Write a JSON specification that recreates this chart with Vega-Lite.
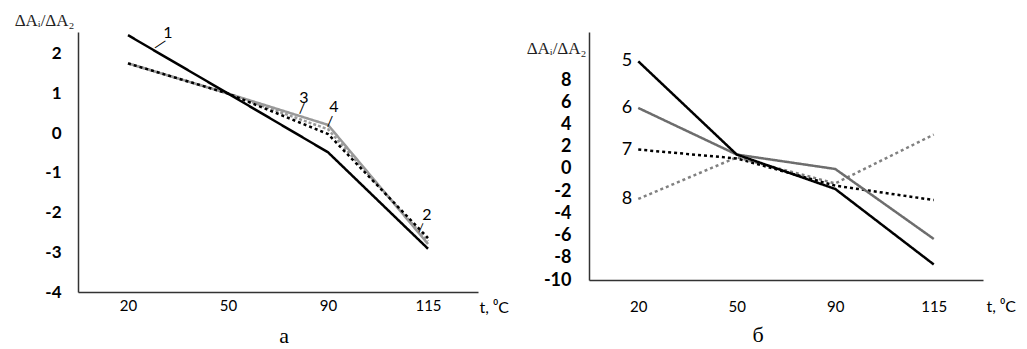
{
  "$schema": "https://vega.github.io/schema/vega-lite/v6.json",
  "background": "white",
  "padding": {"left": 14, "top": 11, "right": 2, "bottom": 0},
  "bounds": "flush",
  "spacing": 111,
  "config": {"view": {"stroke": null}, "axis": {"grid": false, "ticks": false}},
  "resolve": {"scale": {"color": "independent", "strokeDash": "independent"}},
  "datasets": {
    "a": [
      {"s": "3", "t": "20", "v": 1.76}, {"s": "3", "t": "50", "v": 1.0}, {"s": "3", "t": "90", "v": 0.21}, {"s": "3", "t": "115", "v": -2.79},
      {"s": "2", "t": "20", "v": 1.76}, {"s": "2", "t": "50", "v": 1.0}, {"s": "2", "t": "90", "v": 0.1}, {"s": "2", "t": "115", "v": -2.72},
      {"s": "4", "t": "20", "v": 1.76}, {"s": "4", "t": "50", "v": 1.0}, {"s": "4", "t": "90", "v": -0.02}, {"s": "4", "t": "115", "v": -2.64},
      {"s": "1", "t": "20", "v": 2.47}, {"s": "1", "t": "50", "v": 1.0}, {"s": "1", "t": "90", "v": -0.48}, {"s": "1", "t": "115", "v": -2.91}
    ],
    "b": [
      {"s": "8", "t": "20", "v": -2.7}, {"s": "8", "t": "50", "v": 1.05}, {"s": "8", "t": "90", "v": -1.3}, {"s": "8", "t": "115", "v": 3.1},
      {"s": "7", "t": "20", "v": 1.75}, {"s": "7", "t": "50", "v": 0.95}, {"s": "7", "t": "90", "v": -1.5}, {"s": "7", "t": "115", "v": -2.8},
      {"s": "6", "t": "20", "v": 5.5}, {"s": "6", "t": "50", "v": 1.3}, {"s": "6", "t": "90", "v": 0.0}, {"s": "6", "t": "115", "v": -6.3},
      {"s": "5", "t": "20", "v": 9.7}, {"s": "5", "t": "50", "v": 1.3}, {"s": "5", "t": "90", "v": -1.8}, {"s": "5", "t": "115", "v": -8.6}
    ]
  },
  "hconcat": [
    {
      "width": 400,
      "height": 260,
      "data": {"name": "a"},
      "title": {"text": "а", "orient": "bottom", "font": "Liberation Serif", "fontSize": 22, "fontWeight": "normal", "color": "#000", "dx": 6, "offset": 11},
      "encoding": {
        "x": {
          "field": "t", "type": "ordinal", "sort": ["20", "50", "90", "115"],
          "axis": {
            "title": "t, ⁰C", "titleX": 401, "titleY": 15, "titleAlign": "left", "titleBaseline": "middle",
            "titleFont": "Lato", "titleFontSize": 16, "titleFontWeight": "normal", "titleColor": "#000",
            "labelAngle": 0, "labelFont": "Lato", "labelFontSize": 15, "labelColor": "#000", "labelPadding": 6,
            "domainColor": "#333", "domainWidth": 1.5
          }
        },
        "y": {
          "field": "v", "type": "quantitative",
          "scale": {"domain": [-4, 2.55], "nice": false, "zero": false},
          "axis": {
            "title": "ΔAᵢ/ΔA₂", "titleAngle": 0, "titleAlign": "right", "titleBaseline": "middle", "titleX": -4, "titleY": -12,
            "titleFont": "Liberation Serif", "titleFontSize": 17, "titleFontWeight": "normal", "titleColor": "#222",
            "values": [-4, -3, -2, -1, 0, 1, 2],
            "labelExpr": "replace(datum.label, '−', '-')",
            "labelFont": "Lato", "labelFontWeight": "bold", "labelFontSize": 17, "labelColor": "#000", "labelPadding": 17,
            "domainColor": "#333", "domainWidth": 1.5
          }
        }
      },
      "layer": [
        {
          "mark": {"type": "line", "strokeWidth": 2.5},
          "encoding": {
            "color": {"field": "s", "type": "nominal", "scale": {"domain": ["1", "2", "3", "4"], "range": ["#000000", "#999999", "#999999", "#000000"]}, "legend": null},
            "strokeDash": {"field": "s", "type": "nominal", "scale": {"domain": ["1", "2", "3", "4"], "range": [[1, 0], [3, 2], [1, 0], [3, 3]]}, "legend": null}
          }
        },
        {
          "transform": [{"filter": "datum.s == '1' && datum.t == '20'"}],
          "mark": {"type": "text", "font": "Lato", "fontSize": 16, "align": "center", "baseline": "middle", "dx": 40, "dy": -2, "color": "#000"},
          "encoding": {"text": {"field": "s"}}
        },
        {
          "transform": [{"filter": "datum.s == '1' && datum.t == '20'"}],
          "mark": {"type": "text", "font": "DejaVu Sans", "fontSize": 14, "align": "center", "baseline": "middle", "radius": 33.2, "theta": 1.845, "angle": -34, "color": "#000"},
          "encoding": {"text": {"value": "—"}}
        },
        {
          "transform": [{"filter": "datum.s == '3' && datum.t == '90'"}],
          "mark": {"type": "text", "font": "Lato", "fontSize": 16, "align": "center", "baseline": "middle", "dx": -24, "dy": -27, "color": "#000"},
          "encoding": {"text": {"field": "s"}}
        },
        {
          "transform": [{"filter": "datum.s == '3' && datum.t == '90'"}],
          "mark": {"type": "text", "font": "DejaVu Sans", "fontSize": 13, "align": "center", "baseline": "middle", "radius": 31.3, "theta": -1.009, "angle": -67, "color": "#000"},
          "encoding": {"text": {"value": "—"}}
        },
        {
          "transform": [{"filter": "datum.s == '4' && datum.t == '90'"}],
          "mark": {"type": "text", "font": "Lato", "fontSize": 16, "align": "center", "baseline": "middle", "dx": 6, "dy": -27, "color": "#000"},
          "encoding": {"text": {"field": "s"}}
        },
        {
          "transform": [{"filter": "datum.s == '4' && datum.t == '90'"}],
          "mark": {"type": "text", "font": "DejaVu Sans", "fontSize": 13, "align": "center", "baseline": "middle", "radius": 12.8, "theta": 0.117, "angle": -67, "color": "#000"},
          "encoding": {"text": {"value": "—"}}
        },
        {
          "transform": [{"filter": "datum.s == '2' && datum.t == '115'"}],
          "mark": {"type": "text", "font": "Lato", "fontSize": 16, "align": "center", "baseline": "middle", "dx": -1, "dy": -26, "color": "#000"},
          "encoding": {"text": {"field": "s"}}
        },
        {
          "transform": [{"filter": "datum.s == '2' && datum.t == '115'"}],
          "mark": {"type": "text", "font": "DejaVu Sans", "fontSize": 11, "align": "center", "baseline": "middle", "radius": 15.2, "theta": -0.478, "angle": -66, "color": "#000"},
          "encoding": {"text": {"value": "—"}}
        }
      ]
    },
    {
      "width": 394,
      "height": 248,
      "data": {"name": "b"},
      "title": {"text": "б", "orient": "bottom", "font": "Liberation Serif", "fontSize": 22, "fontWeight": "normal", "color": "#000", "dx": -28, "offset": 11},
      "encoding": {
        "x": {
          "field": "t", "type": "ordinal", "sort": ["20", "50", "90", "115"],
          "axis": {
            "title": "t, ⁰C", "titleX": 397, "titleY": 26, "titleAlign": "left", "titleBaseline": "middle",
            "titleFont": "Lato", "titleFontSize": 16, "titleFontWeight": "normal", "titleColor": "#000",
            "labelAngle": 0, "labelFont": "Lato", "labelFontSize": 15, "labelColor": "#000", "labelPadding": 19,
            "domainColor": "#333", "domainWidth": 1.5
          }
        },
        "y": {
          "field": "v", "type": "quantitative",
          "scale": {"domain": [-10, 12.34], "nice": false, "zero": false},
          "axis": {
            "title": "ΔAᵢ/ΔA₂", "titleAngle": 0, "titleAlign": "right", "titleBaseline": "middle", "titleX": -3, "titleY": 16,
            "titleFont": "Liberation Serif", "titleFontSize": 17, "titleFontWeight": "normal", "titleColor": "#222",
            "values": [-10, -8, -6, -4, -2, 0, 2, 4, 6, 8],
            "labelExpr": "replace(datum.label, '−', '-')",
            "labelFont": "Lato", "labelFontWeight": "bold", "labelFontSize": 18, "labelColor": "#000", "labelPadding": 18,
            "domainColor": "#333", "domainWidth": 1.5
          }
        }
      },
      "layer": [
        {
          "mark": {"type": "line", "strokeWidth": 2.5},
          "encoding": {
            "color": {"field": "s", "type": "nominal", "scale": {"domain": ["5", "6", "7", "8"], "range": ["#000000", "#6d6d6d", "#000000", "#808080"]}, "legend": null},
            "strokeDash": {"field": "s", "type": "nominal", "scale": {"domain": ["5", "6", "7", "8"], "range": [[1, 0], [1, 0], [3, 3], [3, 3]]}, "legend": null}
          }
        },
        {
          "transform": [{"filter": "datum.t == '20'"}],
          "mark": {"type": "text", "font": "Lato", "fontSize": 18, "align": "right", "baseline": "middle", "dx": -6, "color": "#000"},
          "encoding": {"text": {"field": "s"}}
        }
      ]
    }
  ]
}
